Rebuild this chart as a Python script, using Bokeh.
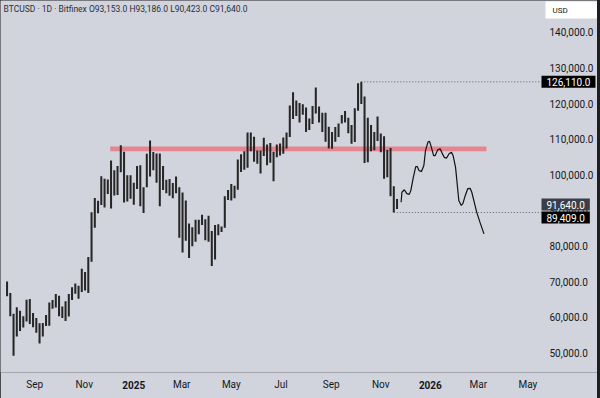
import pandas as pd
from bokeh.plotting import figure
from bokeh.models import (Label, FixedTicker, NumeralTickFormatter, Range1d, DatetimeAxis,
                          GlobalInlineStyleSheet, ColumnDataSource)
from bokeh.embed import file_html
from bokeh.resources import INLINE

# ---------------- data ----------------
bucket_centre_first = "2024-07-29"   # 4-day buckets of daily candles
highs = [70000, 66800, 61000, 62800, 61800, 60300, 64900, 65100, 61200, 59800,
         58300, 58400, 60600, 64100, 64800, 66500, 66000, 63000, 64500, 66500,
         68400, 69500, 68800, 73600, 72700, 76900, 89500, 93500, 92700, 99600,
         98900, 98700, 104000, 101300, 102500, 108300, 106500, 99900, 99900, 97800,
         102500, 102700, 96500, 105900, 109600, 106400, 106000, 106000, 102500, 98600,
         98800, 97700, 99500, 96500, 95000, 92800, 86300, 85300, 87400, 87400,
         88800, 87500, 88500, 84200, 85900, 86100, 85500, 94000, 95700, 97400,
         96900, 104300, 105800, 106600, 111900, 111900, 110700, 106800, 106800, 110400,
         108500, 108900, 106500, 108500, 108800, 110500, 111900, 119500, 123200, 120900,
         120200, 119800, 118900, 115800, 119300, 124500, 119200, 117400, 117400, 113500,
         112000, 113400, 114400, 116800, 117900, 116000, 114000, 118700, 125700, 126110,
         122000, 116000, 114000, 112000, 116400, 111600, 110800, 107000, 107500, 96800,
         93186]
lows = [65900, 60300, 49200, 54600, 56100, 57100, 58800, 58100, 57200, 55600,
        52600, 54600, 57500, 57600, 62400, 62700, 60300, 59800, 58900, 60200,
        64800, 66600, 65200, 67100, 67500, 66800, 75600, 85100, 89200, 91500,
        90800, 94600, 90500, 94200, 94300, 100700, 92200, 92500, 93300, 91600,
        96000, 91200, 89300, 96500, 99500, 101300, 97800, 91200, 95700, 94800,
        94100, 93400, 94800, 82300, 78200, 81500, 76600, 79900, 81200, 83300,
        85900, 81600, 81200, 74400, 76200, 83000, 83900, 85100, 92900, 92800,
        93400, 95800, 100800, 101400, 102000, 106600, 103700, 103100, 100400, 105300,
        102700, 103400, 98200, 104900, 105400, 105900, 107400, 110600, 115700, 116500,
        114700, 116900, 112000, 112600, 114300, 117200, 114700, 112000, 109300, 107400,
        107300, 109300, 110600, 114400, 114700, 111700, 108700, 109200, 118000, 119900,
        103300, 103500, 106600, 106900, 109500, 106300, 98900, 99300, 94000, 89409,
        90423]

proj_dates = ["2025-11-26", "2025-11-27", "2025-11-30", "2025-12-03", "2025-12-06",
              "2025-12-08", "2025-12-11", "2025-12-14", "2025-12-16", "2025-12-18",
              "2025-12-21", "2025-12-24", "2025-12-26", "2025-12-29", "2025-12-31",
              "2026-01-02", "2026-01-05", "2026-01-07", "2026-01-10", "2026-01-13",
              "2026-01-15", "2026-01-18", "2026-01-21", "2026-01-24", "2026-01-27",
              "2026-01-29", "2026-02-01", "2026-02-03", "2026-02-05", "2026-02-08",
              "2026-02-10", "2026-02-13", "2026-02-16", "2026-02-19", "2026-02-21",
              "2026-02-24", "2026-02-27", "2026-03-03", "2026-03-08"]
proj_prices = [92300, 95100, 95800, 94700, 94500, 95600, 99300, 102300, 102300, 101200,
               100900, 102600, 106800, 109200, 109400, 107900, 105400, 105400, 107000, 107300,
               106300, 104900, 104700, 105900, 106300, 105400, 102100, 97500, 92800, 91400,
               91900, 94200, 96100, 96200, 95100, 92300, 89500, 86700, 83400]

zone_dates = ["2024-12-03", "2026-03-11"]
zone_prices = [106650, 107950]

price_ticks = [50000, 60000, 70000, 80000, 90000, 100000, 110000, 120000, 130000, 140000]
month_tick_dates = ["2024-09-01", "2024-11-01", "2025-03-01", "2025-05-01", "2025-07-01",
                    "2025-09-01", "2025-11-01", "2026-03-01", "2026-05-01"]
month_tick_labels = ["Sep", "Nov", "Mar", "May", "Jul", "Sep", "Nov", "Mar", "May"]
year_tick_dates = ["2025-01-01", "2026-01-01"]
year_tick_labels = ["2025", "2026"]

header_text = "BTCUSD \u00b7 1D \u00b7 Bitfinex  O93,153.0  H93,186.0  L90,423.0  C91,640.0"
last_close = 91640
ath_value = 126110
recent_low = 89409

# ---------------- layout mapping ----------------
BG = "#d1d4dc"
FONT = "Roboto"
REF = pd.Timestamp("2025-01-01")
PX_PER_DAY = 0.8125
REF_PX = 133.3
W, H = 597, 398
CHART_R, FRAME_B = 541, 372


def px_to_date(px):
    return REF + pd.Timedelta(days=(px - REF_PX) / PX_PER_DAY)


def py_to_price(py):
    return 100000 + (174.3 - py) * 10000 / 35.6


def to_ms(d):
    return pd.Timestamp(d).value // 10**6


x_start, x_end = px_to_date(0), px_to_date(W)
chart_end = px_to_date(CHART_R)
y_low, y_high = py_to_price(FRAME_B), py_to_price(0)

dates = pd.date_range(bucket_centre_first, periods=len(highs), freq="4D")
src = ColumnDataSource(dict(x=dates, hi=highs, lo=lows))

p = figure(width=W, height=H, x_axis_type="datetime",
           x_range=Range1d(x_start, x_end), y_range=Range1d(y_low, y_high),
           y_axis_location="right", output_backend="svg", toolbar_location=None,
           min_border_left=0, min_border_top=0, min_border_right=0,
           min_border_bottom=H - FRAME_B,
           background_fill_color=BG, border_fill_color=BG, outline_line_color=None)
p.grid.visible = False
p.stylesheets = [GlobalInlineStyleSheet(
    css="html, body {background: #1f1f22;} body > div {background:%s;}" % BG)]

# axes
p.yaxis.ticker = FixedTicker(ticks=price_ticks)
p.yaxis.formatter = NumeralTickFormatter(format="0,0.0")
month_ms = [to_ms(d) for d in month_tick_dates]
p.xaxis.ticker = FixedTicker(ticks=month_ms)
p.xaxis.major_label_overrides = {t: l for t, l in zip(month_ms, month_tick_labels)}

year_ms = [to_ms(d) for d in year_tick_dates]
year_axis = DatetimeAxis(ticker=FixedTicker(ticks=year_ms),
                         major_label_overrides={t: l for t, l in zip(year_ms, year_tick_labels)})
p.add_layout(year_axis, "below")

for ax in (p.xaxis[0], p.yaxis[0], year_axis):
    ax.axis_line_color = None
    ax.major_tick_line_color = None
    ax.minor_tick_line_color = None
    ax.major_tick_out = 0
    ax.major_tick_in = 0
    ax.major_label_text_font = FONT
    ax.major_label_text_font_size = "10px"
    ax.major_label_text_color = "#131722"
year_axis.major_label_text_font_style = "bold"
# price labels drawn over the right-hand price-scale strip
p.yaxis.major_label_standoff = 549 - W
p.xaxis[0].major_label_standoff = 6
year_axis.major_label_standoff = -12

# resistance zone
p.quad(left=[pd.Timestamp(zone_dates[0])], right=[pd.Timestamp(zone_dates[1])],
       bottom=[zone_prices[0]], top=[zone_prices[1]],
       fill_color="#e4858f", line_color=None)

# candles (high-low ranges of each 4-day bucket)
p.vbar(x="x", bottom="lo", top="hi", width=2.5 * 86400000, source=src,
       fill_color="#262626", line_color=None)

# dotted price lines
peak_i = highs.index(max(highs))
low_i = lows.index(recent_low)
p.segment(x0=[dates[peak_i], dates[low_i]], y0=[ath_value, recent_low],
          x1=[chart_end, chart_end], y1=[ath_value, recent_low],
          line_color="#5d606b", line_dash="1 2", line_width=1)

# projected path
p.line(pd.to_datetime(proj_dates), proj_prices, line_color="#111111", line_width=1.2)

# price tags on the scale
tag_x = px_to_date(541)
for txt, yv, bg, off in [(f"{ath_value:,.1f}", ath_value, "#000000", 0),
                         (f"{last_close:,.1f}", last_close, "#3a3e48", 0),
                         (f"{recent_low:,.1f}", recent_low, "#000000", -5)]:
    p.add_layout(Label(x=tag_x, y=yv, y_offset=off, text=txt, text_color="white",
                       text_font=FONT, text_font_size="10px", text_align="left",
                       text_baseline="middle", background_fill_color=bg, padding=(5, 2),
                       level="overlay"))

# USD box
p.rect(x=[px_to_date(571)], y=[py_to_price(9.5)], width=52, height=17,
       width_units="screen", height_units="screen", fill_color="white", line_color=None)
p.add_layout(Label(x=px_to_date(552), y=py_to_price(9.5), text="USD",
                   text_color="#131722", text_font=FONT, text_font_size="8px",
                   text_align="left", text_baseline="middle", level="overlay"))

# header
p.add_layout(Label(x=x_start, y=y_high, x_offset=3, y_offset=-3, text=header_text,
                   text_color="#2a2e39", text_font=FONT, text_font_size="8.5px",
                   text_align="left", text_baseline="top"))

open("out.html", "w").write(file_html(p, INLINE))
